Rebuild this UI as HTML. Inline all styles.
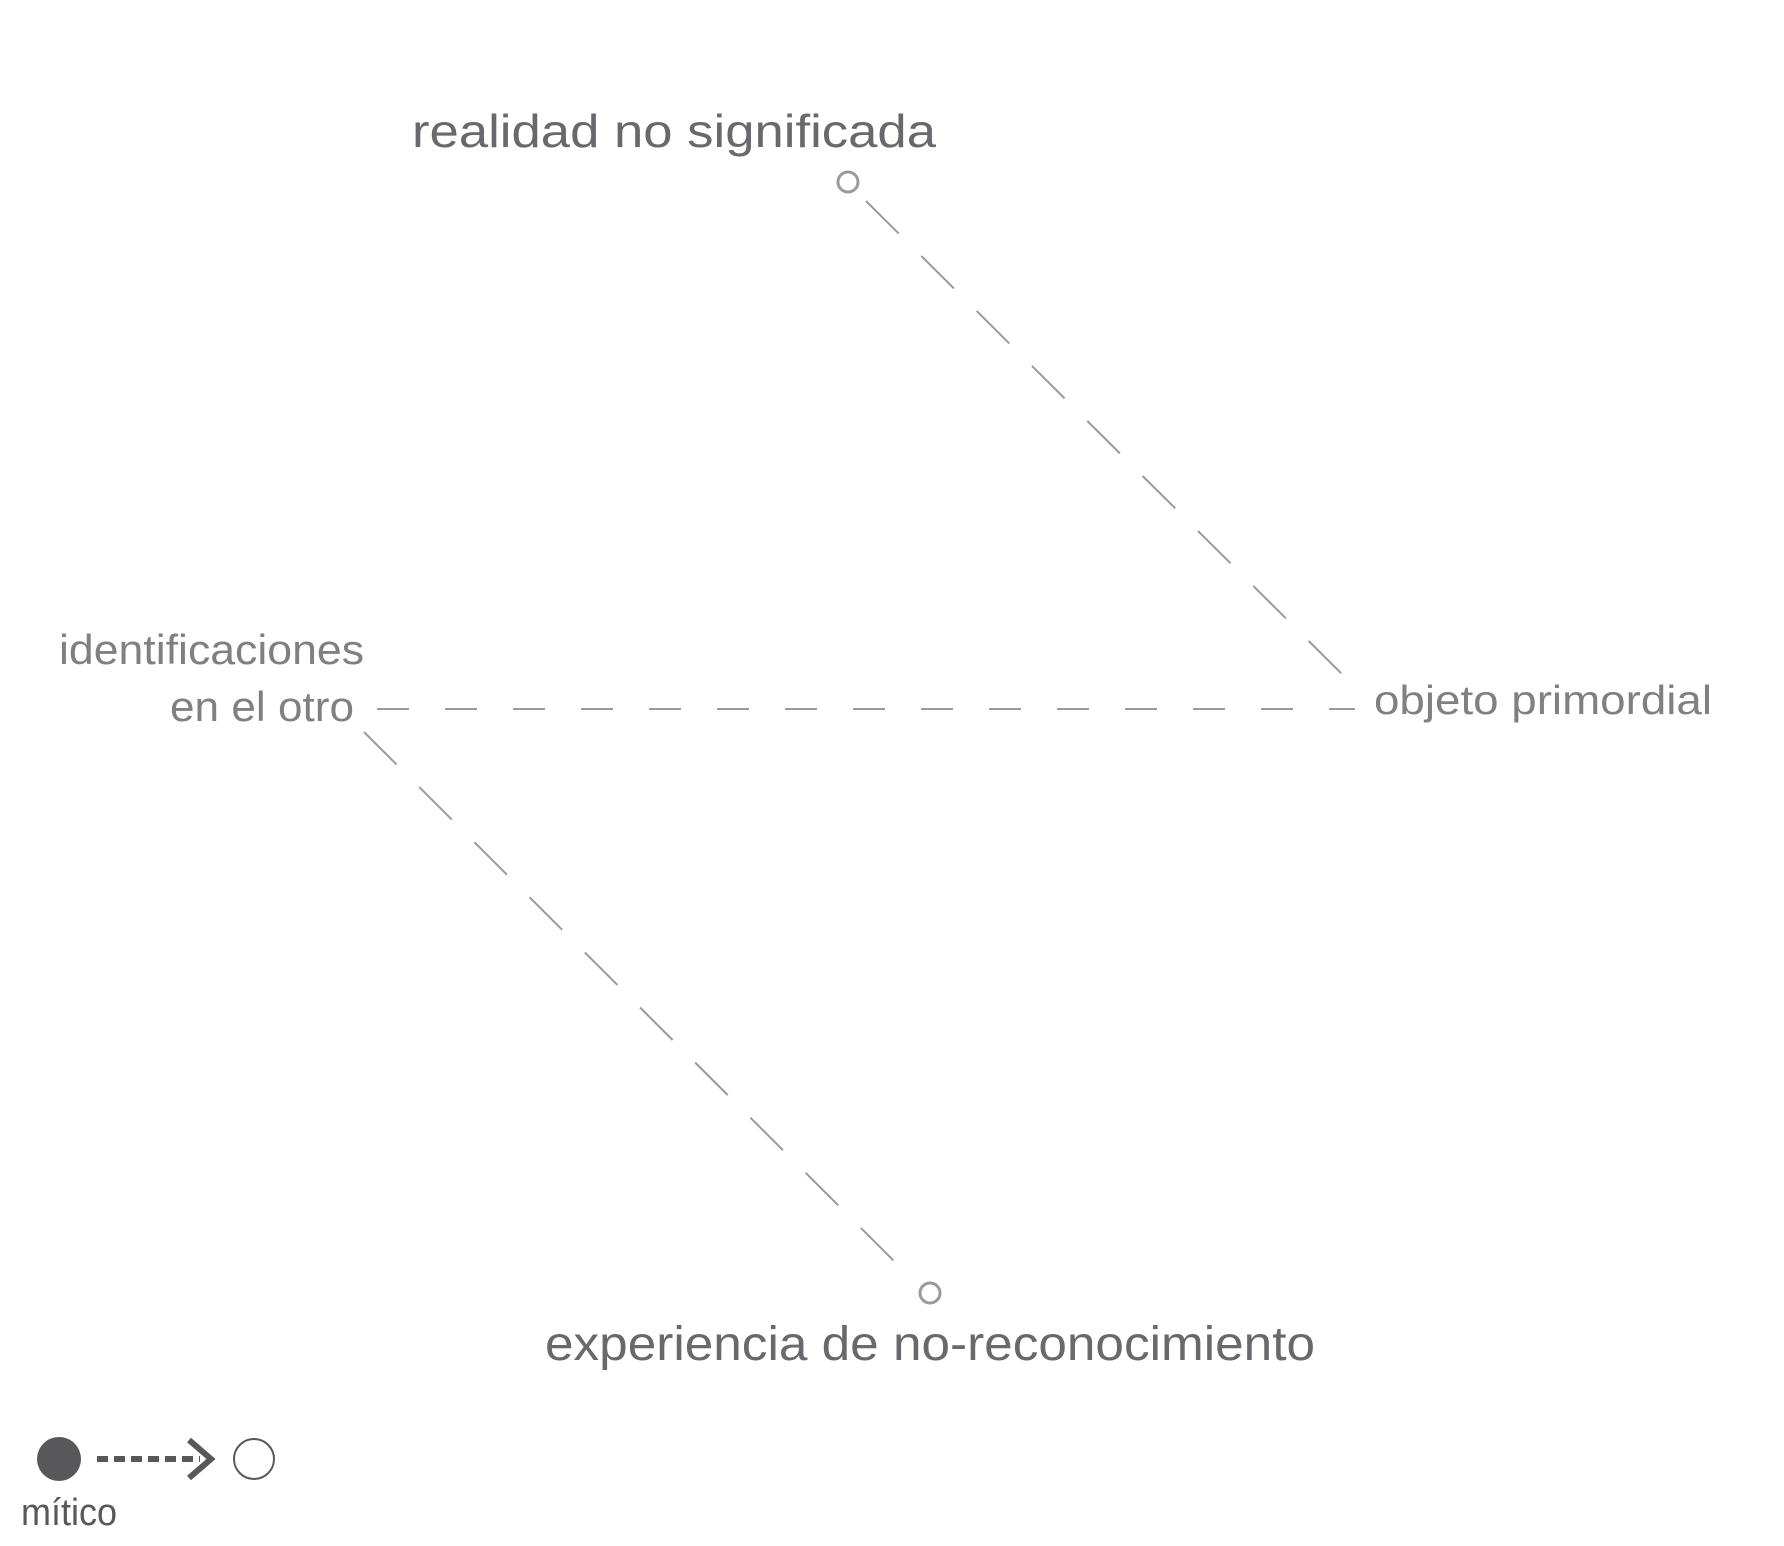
<!DOCTYPE html>
<html><head><meta charset="utf-8"><style>
html,body{margin:0;padding:0;background:#fff;}
svg{display:block;}
</style></head><body>
<svg width="1784" height="1546" viewBox="0 0 1784 1546" xmlns="http://www.w3.org/2000/svg">
<g fill="none" stroke="#9a9a9c" stroke-width="2">
<line x1="866" y1="201" x2="1358" y2="690" stroke-dasharray="46,32"/>
<line x1="377" y1="709" x2="1355" y2="709" stroke-dasharray="32,36"/>
<line x1="364" y1="732" x2="903" y2="1270" stroke-dasharray="46,32"/>
</g>
<circle cx="848" cy="182" r="10" fill="none" stroke="#9a9a9c" stroke-width="3"/>
<circle cx="930" cy="1293" r="10" fill="none" stroke="#9a9a9c" stroke-width="3"/>
<g font-family="Liberation Sans, sans-serif">
<text x="412" y="147" font-size="46" fill="#69696d" textLength="524" lengthAdjust="spacingAndGlyphs">realidad no significada</text>
<text x="545" y="1360" font-size="48" fill="#69696d" textLength="770" lengthAdjust="spacingAndGlyphs">experiencia de no-reconocimiento</text>
<text x="364" y="664" font-size="42" fill="#808083" text-anchor="end" textLength="305" lengthAdjust="spacingAndGlyphs">identificaciones</text>
<text x="354" y="721" font-size="42" fill="#808083" text-anchor="end" textLength="184" lengthAdjust="spacingAndGlyphs">en el otro</text>
<text x="1374" y="714" font-size="41" fill="#808083" textLength="338" lengthAdjust="spacingAndGlyphs">objeto primordial</text>
<text x="21" y="1525" font-size="38" fill="#58585b" textLength="96" lengthAdjust="spacingAndGlyphs">mítico</text>
</g>
<circle cx="59" cy="1459" r="22" fill="#58585b"/>
<line x1="97" y1="1459" x2="200" y2="1459" stroke="#58585b" stroke-width="6" stroke-dasharray="11,6"/>
<polyline points="189,1440 211,1459 189,1478" fill="none" stroke="#58585b" stroke-width="6"/>
<circle cx="254" cy="1459" r="20" fill="none" stroke="#58585b" stroke-width="2"/>
</svg>
</body></html>
